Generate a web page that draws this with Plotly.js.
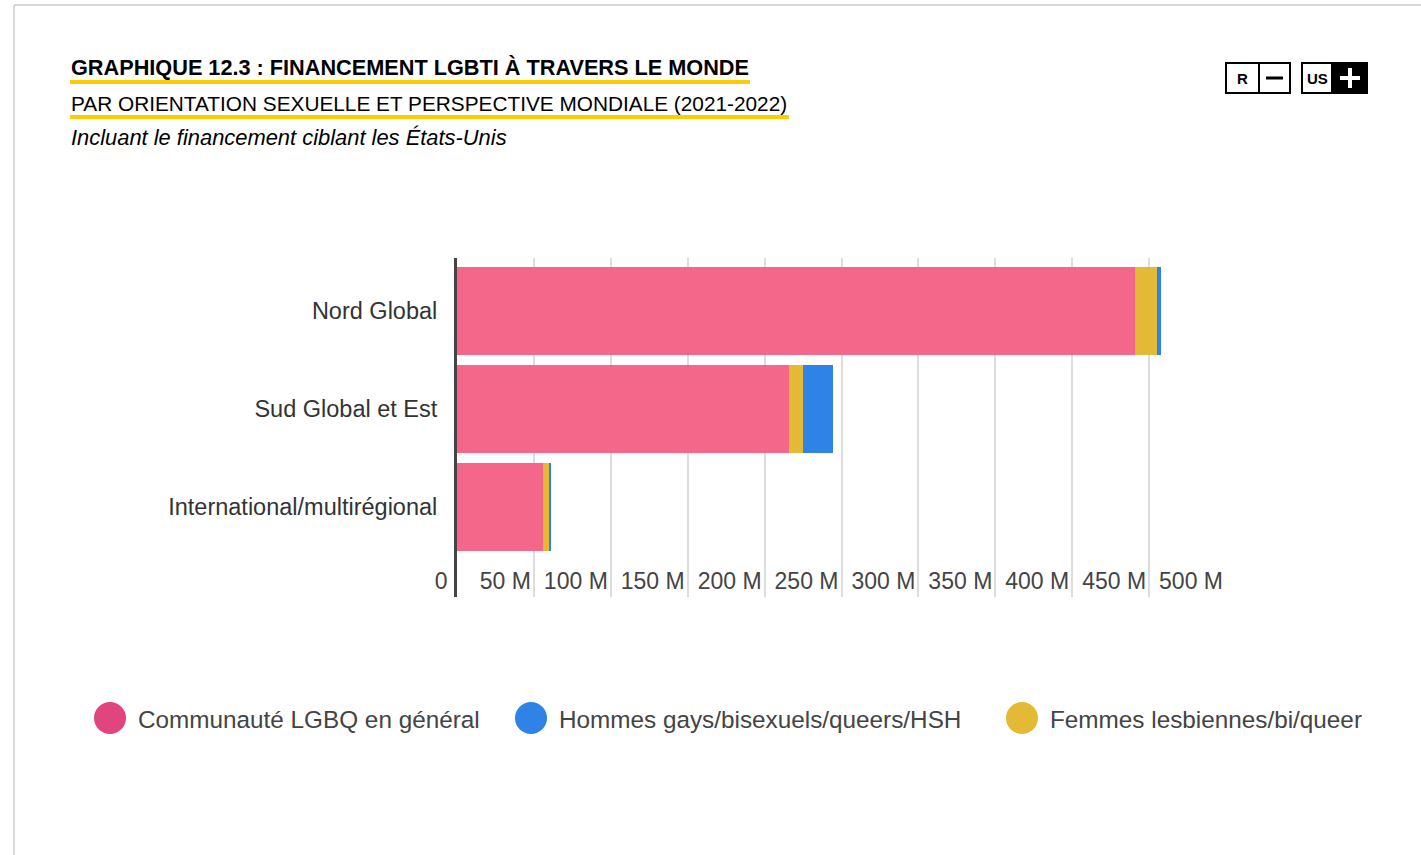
<!DOCTYPE html>
<html>
<head>
<meta charset="utf-8">
<script src="https://cdn.plot.ly/plotly-3.0.1.min.js"></script>
<style>
  html, body { margin: 0; padding: 0; background: #fff; }
  #plot { width: 1421px; height: 855px; }
</style>
</head>
<body>
<div id="plot"></div>
<script>
// categories (top to bottom)
var regions = ["Nord Global", "Sud Global et Est", "International/multirégional"];

// funding in millions USD
var lgbqGeneral = [441, 216, 56];
var lesbianQueer = [14.3, 9.1, 3.9];
var gayBiMsm = [2.6, 19.5, 1.3];

var tickVals = [0, 50, 100, 150, 200, 250, 300, 350, 400, 450, 500];
var tickText = ["0\u00a0", "50 M", "100 M", "150 M", "200 M", "250 M", "300 M", "350 M", "400 M", "450 M", "500 M"];

var legendNames = ["Communauté LGBQ en général", "Hommes gays/bisexuels/queers/HSH", "Femmes lesbiennes/bi/queer"];
var legendColors = ["#e1457e", "#2f82e6", "#e3b935"];

var W = 1421, H = 855;
var L = 457, R = 195, T = 258, B = 258;
var pw = W - L - R, ph = H - T - B;
// pixel -> paper helpers for the decorations
function px(x) { return (x - L) / pw; }
function py(y) { return 1 - (y - T) / ph; }

var trace1 = {
  y: regions, x: lgbqGeneral, name: legendNames[0],
  type: "bar", orientation: "h", marker: {color: "#f5678a"},
  showlegend: false, hoverinfo: "skip"
};
var trace2 = {
  y: regions, x: lesbianQueer, name: legendNames[2],
  type: "bar", orientation: "h", marker: {color: "#e3b935"},
  showlegend: false, hoverinfo: "skip"
};
var trace3 = {
  y: regions, x: gayBiMsm, name: legendNames[1],
  type: "bar", orientation: "h", marker: {color: "#2f82e6"},
  showlegend: false, hoverinfo: "skip"
};

var data = [trace1, trace2, trace3];

var shapes = [
  // outer frame
  {type: "line", xref: "paper", yref: "paper", x0: px(14), x1: px(14), y0: py(5), y1: py(860), line: {color: "#b0b0b0", width: 1}},
  {type: "line", xref: "paper", yref: "paper", x0: px(14), x1: px(1425), y0: py(5), y1: py(5), line: {color: "#b0b0b0", width: 1}},
  // title underlines
  {type: "line", xref: "paper", yref: "paper", x0: px(70), x1: px(750), y0: py(82), y1: py(82), line: {color: "#ffcc00", width: 4}},
  {type: "line", xref: "paper", yref: "paper", x0: px(70), x1: px(789), y0: py(117), y1: py(117), line: {color: "#ffcc00", width: 4}},
  // R / - box
  {type: "rect", xref: "paper", yref: "paper", x0: px(1226), x1: px(1290), y0: py(63), y1: py(93), line: {color: "#000", width: 2}, fillcolor: "#fff"},
  {type: "line", xref: "paper", yref: "paper", x0: px(1259), x1: px(1259), y0: py(63), y1: py(93), line: {color: "#000", width: 2}},
  {type: "line", xref: "paper", yref: "paper", x0: px(1266), x1: px(1283), y0: py(78), y1: py(78), line: {color: "#000", width: 3}},
  // US / + box
  {type: "rect", xref: "paper", yref: "paper", x0: px(1302), x1: px(1367), y0: py(63), y1: py(93), line: {color: "#000", width: 2}, fillcolor: "#fff"},
  {type: "rect", xref: "paper", yref: "paper", x0: px(1332), x1: px(1367), y0: py(63), y1: py(93), line: {color: "#000", width: 2}, fillcolor: "#000"},
  {type: "line", xref: "paper", yref: "paper", x0: px(1340), x1: px(1360), y0: py(78), y1: py(78), line: {color: "#fff", width: 4}},
  {type: "line", xref: "paper", yref: "paper", x0: px(1350), x1: px(1350), y0: py(68), y1: py(88), line: {color: "#fff", width: 4}}
];

var annotations = [
  {text: "<b>GRAPHIQUE 12.3 : FINANCEMENT LGBTI À TRAVERS LE MONDE</b>", xref: "paper", yref: "paper",
   x: px(69), y: py(68), xanchor: "left", yanchor: "middle", showarrow: false,
   font: {family: "Liberation Sans, Arial", size: 21.7, color: "#000"}},
  {text: "PAR ORIENTATION SEXUELLE ET PERSPECTIVE MONDIALE (2021-2022)", xref: "paper", yref: "paper",
   x: px(69), y: py(103), xanchor: "left", yanchor: "middle", showarrow: false,
   font: {family: "Liberation Sans, Arial", size: 20.8, color: "#000"}},
  {text: "<i>Incluant le financement ciblant les États-Unis</i>", xref: "paper", yref: "paper",
   x: px(69), y: py(138), xanchor: "left", yanchor: "middle", showarrow: false,
   font: {family: "Liberation Sans, Arial", size: 21.9, color: "#000"}},
  {text: "<b>R</b>", xref: "paper", yref: "paper", x: px(1242), y: py(78), xanchor: "center", yanchor: "middle", showarrow: false,
   font: {family: "Liberation Sans, Arial", size: 15, color: "#000"}},
  {text: "<b>US</b>", xref: "paper", yref: "paper", x: px(1317), y: py(78), xanchor: "center", yanchor: "middle", showarrow: false,
   font: {family: "Liberation Sans, Arial", size: 15, color: "#000"}}
];

// custom legend: circles + labels
var legendX = [110, 531, 1022];
for (var i = 0; i < legendNames.length; i++) {
  shapes.push({type: "circle", xref: "paper", yref: "paper",
    x0: px(legendX[i] - 16), x1: px(legendX[i] + 16), y0: py(702), y1: py(734),
    line: {width: 0}, fillcolor: legendColors[i]});
  annotations.push({text: legendNames[i], xref: "paper", yref: "paper",
    x: px(legendX[i] + 26), y: py(719), xanchor: "left", yanchor: "middle", showarrow: false,
    font: {family: "Liberation Sans, Arial", size: 24.3, color: "#444"}});
}

var layout = {
  width: W, height: H,
  margin: {l: L, r: R, t: T, b: B, pad: 0},
  paper_bgcolor: "#fff", plot_bgcolor: "#fff",
  barmode: "stack", bargap: 0.1,
  font: {family: "Liberation Sans, Arial", color: "#444"},
  xaxis: {
    range: [0, 500], tickvals: tickVals, ticktext: tickText,
    ticklabelposition: "inside left", ticklabeloverflow: "allow",
    ticklabelshift: -3, ticklabelstandoff: -3,
    tickfont: {size: 23, color: "#444"},
    showgrid: true, gridcolor: "#dddddd", gridwidth: 2,
    zeroline: false, showline: false, ticks: "", fixedrange: true
  },
  yaxis: {
    type: "category", range: [2.92, -0.54], autorange: false,
    tickfont: {size: 23.5, color: "#333"},
    showline: true, linecolor: "#444", linewidth: 3,
    ticks: "outside", ticklen: 12, tickcolor: "rgba(0,0,0,0)",
    showgrid: false, zeroline: false, fixedrange: true
  },
  shapes: shapes,
  annotations: annotations
};

Plotly.newPlot("plot", data, layout, {displayModeBar: false, staticPlot: true});
</script>
</body>
</html>
